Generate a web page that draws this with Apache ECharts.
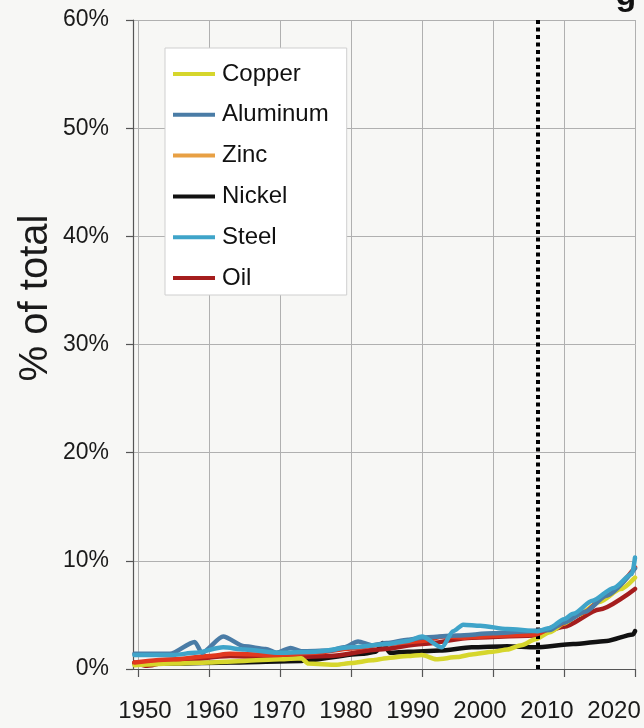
<!DOCTYPE html>
<html><head><meta charset="utf-8">
<script src="https://cdn.jsdelivr.net/npm/echarts@6/dist/echarts.min.js"></script>
<style>html,body{margin:0;padding:0;background:#f7f7f5}#c{width:644px;height:728px}</style>
</head><body><div id="c"></div>
<script>
// ---- data ----
const seriesNames = ['Copper','Aluminum','Zinc','Nickel','Steel','Oil'];
const yearTicks = [1950,1960,1970,1980,1990,2000,2010,2020];
const yTickLabels = ['0%','10%','20%','30%','40%','50%','60%'];
const markerYear = 2006.3;

const copper = [[1949.5,0.35],[1955,0.5],[1960,0.6],[1965,0.75],[1970,0.9],[1973,1.0],[1974,0.5],[1978,0.4],[1980,0.55],[1983,0.8],[1985,1.0],[1988,1.2],[1990,1.3],[1992,0.9],[1995,1.1],[1997,1.35],[2000,1.6],[2002,1.8],[2004,2.2],[2006,2.75],[2008,3.4],[2010,4.2],[2012,5.0],[2015,6.2],[2018,7.4],[2020,8.45]];
const aluminum = [[1949.5,1.4],[1954.5,1.4],[1958,2.5],[1959,1.5],[1962,3.0],[1965,2.1],[1968,1.85],[1969.5,1.5],[1971.5,1.95],[1973,1.65],[1977,1.7],[1979,2.0],[1981,2.55],[1983,2.2],[1985,2.4],[1988,2.7],[1990,2.9],[1995,3.1],[2000,3.3],[2005,3.5],[2008,3.6],[2010,4.3],[2013,5.3],[2016,6.8],[2020,9.3]];
const zinc = [[1949.5,0.6],[1955,0.9],[1960,1.2],[1963,1.4],[1970,1.3],[1975,1.5],[1980,1.9],[1985,2.3],[1990,2.6],[1993,3.0],[1996,2.9],[2000,3.05],[2006,3.2],[2009,4.0],[2012.7,5.2],[2016,6.8],[2020,9.4]];
const nickel = [[1949.5,0.5],[1955,0.5],[1963,0.6],[1973,0.75],[1981.7,1.4],[1983.5,1.6],[1984.5,2.4],[1985.5,1.5],[1988,1.6],[1992.5,1.7],[1997,2.0],[2002,2.1],[2006,2.0],[2011.3,2.3],[2016,2.6],[2019.7,3.2],[2020,3.5]];
const steel = [[1949.5,1.3],[1955,1.3],[1958,1.5],[1962,2.0],[1965,1.8],[1970,1.5],[1975,1.6],[1980,2.0],[1985,2.3],[1988,2.6],[1990,3.0],[1992.8,2.0],[1994.4,3.5],[1995.8,4.1],[1998.2,4.0],[2002,3.7],[2006.2,3.5],[2008,3.8],[2010,4.6],[2011.3,5.1],[2014,6.3],[2017,7.5],[2019.6,8.8],[2020,10.3]];
const oil = [[1949.5,0.6],[1951.3,0.3],[1955,0.75],[1963,1.2],[1970,1.05],[1977,1.2],[1984,1.8],[1990,2.3],[1997,2.9],[2006,3.1],[2010,3.9],[2015,5.5],[2020,7.4]];

const colors = {Copper:'#d6d62c',Aluminum:'#4a7ca6',Zinc:'#e2391f',Nickel:'#111111',Steel:'#3fa4c9',Oil:'#a51d1d'};
const legendColors = {Zinc:'#e8a044'};
const FONT = '"Liberation Sans", Arial, sans-serif';

const chart = echarts.init(document.getElementById('c'), null, {renderer:'canvas'});

function mk(name, data, z){
  return {name, type:'line', data, symbol:'none', showSymbol:false, z,
    lineStyle:{width:4.5, color:colors[name], cap:'round', join:'round'},
    itemStyle:{color:colors[name]}, smooth:0.25, smoothMonotone:'x', xAxisIndex:0, silent:true};
}

const series = [
  mk('Nickel', nickel, 2), mk('Oil', oil, 3), mk('Copper', copper, 4),
  mk('Zinc', zinc, 5), mk('Aluminum', aluminum, 6), mk('Steel', steel, 7)
];
series[0].markLine = {silent:true, symbol:'none', label:{show:false}, animation:false,
  lineStyle:{color:'#000', width:4, type:[4,3.5]}, data:[{xAxis:markerYear}]};

chart.setOption({
  animation:false,
  backgroundColor:'#f7f7f5',
  textStyle:{fontFamily:FONT},
  grid:{left:133, right:9, top:20, bottom:59, containLabel:false},
  xAxis:[{
    type:'value', min:1949.3, max:2020,
    axisLine:{show:true, lineStyle:{color:'#555', width:1.2}},
    axisTick:{show:true, customValues:yearTicks, length:8, inside:false, lineStyle:{color:'#555', width:1.2}},
    splitLine:{show:true, lineStyle:{color:'#b0b0b0', width:1}},
    axisLabel:{show:false}
  },{
    type:'value', min:1948.21, max:2023.13, position:'bottom',
    axisLine:{show:false}, axisTick:{show:false}, splitLine:{show:false},
    axisLabel:{show:true, customValues:yearTicks, margin:30, fontSize:24, color:'#1a1a1a', fontFamily:FONT,
      formatter:v=>String(Math.round(v))}
  }],
  yAxis:{
    type:'value', min:0, max:60, interval:10,
    axisLine:{show:true, lineStyle:{color:'#555', width:1.2}},
    axisTick:{show:true, length:7, lineStyle:{color:'#555', width:1.2}},
    splitLine:{show:true, lineStyle:{color:'#b0b0b0', width:1}},
    axisLabel:{margin:24, fontSize:23, color:'#1a1a1a', fontFamily:FONT,
      formatter:(v)=>yTickLabels[Math.round(v/10)]}
  },
  legend:{
    orient:'vertical', left:165, top:48, icon:'rect', itemWidth:42, itemHeight:4, itemGap:16.8,
    padding:[14,18,5,8], backgroundColor:'#ffffff', borderColor:'#cfcfcf', borderWidth:1,
    textStyle:{fontSize:24, color:'#111', fontFamily:FONT, padding:[0,0,0,2]},
    selectedMode:false,
    data:seriesNames.map(n=>({name:n, itemStyle:{color:legendColors[n]||colors[n]}}))
  },
  graphic:[
    {type:'text', x:36, y:298, rotation:Math.PI/2, style:{text:'% of total', fontSize:40, fontFamily:FONT, fill:'#1a1a1a', align:'center', verticalAlign:'middle'}},
    {type:'text', x:626, y:13, style:{text:'g', fontSize:34, fontWeight:'bold', fontFamily:FONT, fill:'#111', align:'center', verticalAlign:'bottom'}}
  ],
  series
});
</script></body></html>
